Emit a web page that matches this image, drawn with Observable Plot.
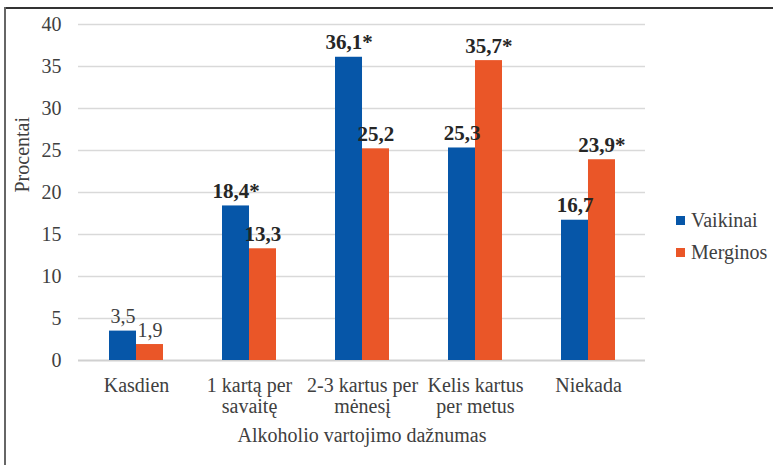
<!DOCTYPE html>
<html>
<head>
<meta charset="utf-8">
<script src="https://cdn.jsdelivr.net/npm/d3@7"></script>
<script src="https://cdn.jsdelivr.net/npm/@observablehq/plot@0.6"></script>
<style>
  html, body { margin: 0; padding: 0; background: #fff; }
  #wrap { position: relative; width: 773px; height: 465px; overflow: hidden; font-family: 'Liberation Serif', serif; }
  #wrap svg text { font-family: 'Liberation Serif', serif; }
  #topline { position: absolute; left: 5px; top: 7px; width: 768px; height: 1.5px; background: #333; }
  #leftline { position: absolute; left: 4px; top: 7px; width: 2px; height: 458px; background: #666; }
  .leg { position: absolute; left: 676px; font-size: 20px; color: #404040; display: flex; align-items: center; white-space: nowrap; font-family: 'Liberation Serif', serif; }
  .sw { width: 9px; height: 9px; margin-right: 6px; }
</style>
</head>
<body>
<div id="wrap">
  <div id="chart"></div>
  <div id="topline"></div>
  <div id="leftline"></div>
  <div id="legend"></div>
</div>
<script>
const categories = ["Kasdien", "1 kartą per\nsavaitę", "2-3 kartus per\nmėnesį", "Kelis kartus\nper metus", "Niekada"];
const series = ["Vaikinai", "Merginos"];
const vaikinai = [3.5, 18.4, 36.1, 25.3, 16.7];
const merginos = [1.9, 13.3, 25.2, 35.7, 23.9];
const vaikinaiStar = [false, true, true, false, false];
const merginosStar = [false, false, false, true, true];
const boldLabels = [false, true, true, true, true];
const yTicks = [0, 5, 10, 15, 20, 25, 30, 35, 40];
const colors = ["#0656a8", "#ea5628"];

const FF = "'Liberation Serif', serif";
const rows = [];
categories.forEach((c, i) => {
  rows.push({cat: c, s: series[0], v: vaikinai[i], star: vaikinaiStar[i], bold: boldLabels[i]});
  rows.push({cat: c, s: series[1], v: merginos[i], star: merginosStar[i], bold: boldLabels[i]});
});
const fmt = d => d.v.toFixed(1).replace(".", ",") + (d.star ? "*" : "");

const marginLeft = 78, marginRight = 128, W = 773;
const pi = 0.524, po = 0.262;
const step = (W - marginLeft - marginRight) / (categories.length - pi + 2 * po);
const half = step * (1 - pi) / 2;

const A = rows.filter(d => d.s === series[0]);
const B = rows.filter(d => d.s === series[1]);

function labels(data, dx) {
  return [
    Plot.text(data.filter(d => d.bold), {x: "cat", y: "v", text: fmt, dx, dy: -8, lineAnchor: "bottom",
      fontSize: 21, fontWeight: "bold", fill: "#262626", fontFamily: FF}),
    Plot.text(data.filter(d => !d.bold), {x: "cat", y: "v", text: fmt, dx, dy: -8, lineAnchor: "bottom",
      fontSize: 20, fill: "#404040", fontFamily: FF})
  ];
}

const chart = Plot.plot({
  width: W,
  height: 465,
  marginLeft, marginRight,
  marginTop: 24,
  marginBottom: 105,
  style: {fontFamily: FF, background: "transparent"},
  x: {type: "band", domain: categories, paddingInner: pi, paddingOuter: po, align: 0.5},
  y: {domain: [0, 40]},
  marks: [
    Plot.ruleY(yTicks.filter(t => t > 0), {stroke: "#d9d9d9", strokeWidth: 1.5}),
    Plot.ruleY([0], {stroke: "#d0d0d0", strokeWidth: 2}),
    Plot.barY(A, {x: "cat", y: "v", fill: colors[0], insetRight: half}),
    Plot.barY(B, {x: "cat", y: "v", fill: colors[1], insetLeft: half}),
    ...labels(A, -half / 2),
    ...labels(B, half / 2),
    Plot.axisY({ticks: yTicks, tickSize: 0, tickPadding: 17, fontSize: 20, fill: "#404040", label: null, fontFamily: FF}),
    Plot.axisX({tickSize: 0, tickPadding: 16, fontSize: 20, fill: "#404040", lineHeight: 1.08, label: null, fontFamily: FF}),
    Plot.text(["Alkoholio vartojimo dažnumas"], {frameAnchor: "bottom", dy: 81, fontSize: 20, fill: "#404040", text: d => d, fontFamily: FF}),
    Plot.text(["Procentai"], {frameAnchor: "left", dx: -56, rotate: -90, fontSize: 20, fill: "#404040", text: d => d, fontFamily: FF})
  ]
});
document.getElementById("chart").appendChild(chart);

const legend = document.getElementById("legend");
const legY = [220, 252];
series.forEach((s, i) => {
  const el = document.createElement("div");
  el.className = "leg";
  el.style.top = (legY[i] - 12) + "px";
  el.style.height = "24px";
  el.innerHTML = `<div class="sw" style="background:${colors[i]}"></div><span>${s}</span>`;
  legend.appendChild(el);
});
</script>
</body>
</html>
